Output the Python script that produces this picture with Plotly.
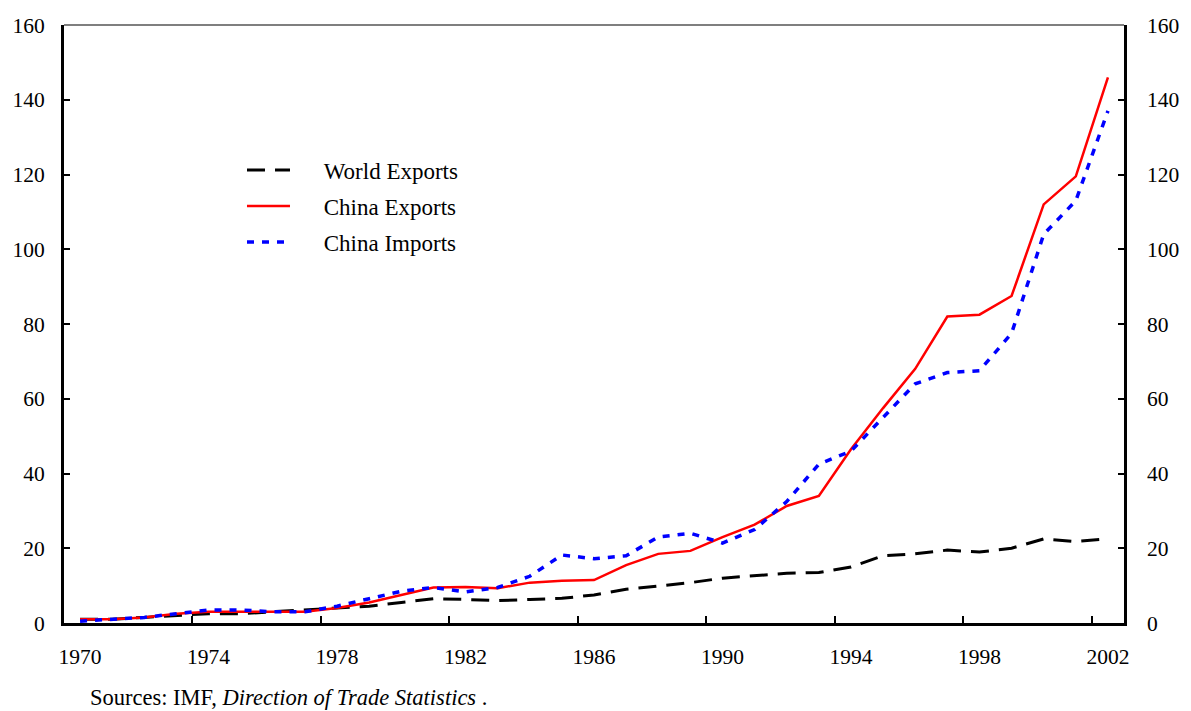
import plotly.graph_objects as go

years = list(range(1970, 2003))
world_exports = [1.0, 1.0, 1.5, 2.0, 2.5, 2.5, 3.0, 3.3, 3.8, 4.5, 5.5, 6.5, 6.3,
                 6.0, 6.3, 6.6, 7.5, 9.0, 9.9, 10.8, 12.0, 12.6, 13.3, 13.5, 15.0,
                 18.0, 18.5, 19.5, 19.0, 20.0, 22.5, 21.8, 22.5]
china_exports = [1.0, 1.0, 1.5, 2.5, 3.0, 3.0, 3.0, 3.0, 4.0, 5.5, 7.5, 9.5, 9.6,
                 9.3, 10.8, 11.3, 11.5, 15.5, 18.5, 19.3, 23.0, 26.3, 31.3, 34.0,
                 46.5, 57.5, 68.0, 82.0, 82.5, 87.5, 112.0, 119.5, 146.0]
china_imports = [0.5, 1.0, 1.5, 2.5, 3.5, 3.5, 3.0, 3.0, 4.5, 6.5, 8.5, 9.5, 8.3,
                 9.5, 12.5, 18.2, 17.2, 18.0, 23.0, 24.0, 21.4, 25.0, 32.5, 42.5,
                 46.0, 55.0, 64.0, 67.0, 67.5, 77.5, 104.0, 113.0, 137.0]

xtick_labels = [1970, 1974, 1978, 1982, 1986, 1990, 1994, 1998, 2002]
ytick_vals = [0, 20, 40, 60, 80, 100, 120, 140, 160]
series_names = ["World Exports", "China Exports", "China Imports"]
source_text = "Sources: IMF, <i>Direction of Trade Statistics</i> ."

FONT = "Liberation Serif"
PAD = "\u00a0" * 5

fig = go.Figure()
fig.add_trace(go.Scatter(x=years, y=world_exports, mode="lines", name=PAD + series_names[0],
                         legend="legend",
                         line=dict(color="black", width=3, dash="18px,10px")))
fig.add_trace(go.Scatter(x=years, y=china_exports, mode="lines", name=PAD + series_names[1],
                         legend="legend2",
                         line=dict(color="#ff0000", width=2.5)))
fig.add_trace(go.Scatter(x=years, y=china_imports, mode="lines", name=PAD + series_names[2],
                         legend="legend3",
                         line=dict(color="#0000ff", width=3.5, dash="7px,8px")))
fig.add_trace(go.Scatter(x=years, y=china_exports, mode="lines", yaxis="y2",
                         showlegend=False, hoverinfo="skip",
                         line=dict(color="rgba(0,0,0,0)", width=0)))

# plot area: left 63, right 1135, top 25, bottom 623 (page pixels)
leg_common = dict(x=(243 - 63) / 1072, xanchor="left", yanchor="middle",
                  bgcolor="rgba(0,0,0,0)",
                  font=dict(family=FONT, size=23, color="black"), itemwidth=43)

def py(v):
    return (623 - v) / 598

fig.update_layout(
    width=1191, height=711,
    margin=dict(l=63, r=56, t=25, b=88),
    paper_bgcolor="white", plot_bgcolor="white",
    font=dict(family=FONT, size=21.5, color="black"),
    xaxis=dict(range=[1969.5, 2002.5], tickmode="array", tickvals=xtick_labels,
               ticktext=[str(v) for v in xtick_labels], ticks="",
               showgrid=False, zeroline=False, showline=True, linecolor="black",
               linewidth=3, ticklabelstandoff=12,
               minor=dict(tickmode="array", tickvals=[v - 0.5 for v in xtick_labels[1:]],
                          ticks="inside", ticklen=7, tickwidth=1.5, tickcolor="black",
                          showgrid=False)),
    yaxis=dict(range=[0, 160], tickmode="array", tickvals=ytick_vals, ticks="inside",
               ticklen=6, tickwidth=1.5, tickcolor="black", showgrid=False,
               zeroline=False, showline=True, linecolor="black", linewidth=3,
               ticklabelstandoff=12),
    yaxis2=dict(range=[0, 160], overlaying="y", side="right", tickmode="array",
                tickvals=ytick_vals, ticks="inside", ticklen=6, tickwidth=1.5,
                tickcolor="black", showgrid=False, zeroline=False, showline=True,
                linecolor="black", linewidth=2.5, ticklabelstandoff=16),
    legend=dict(y=py(170), **leg_common),
    legend2=dict(y=py(206), **leg_common),
    legend3=dict(y=py(242), **leg_common),
    showlegend=True,
)

fig.add_shape(type="line", xref="paper", yref="paper", x0=0, x1=1, y0=1, y1=1,
              line=dict(color="#555555", width=1.5))

fig.add_annotation(text=source_text, xref="paper", yref="paper",
                   x=(87 - 63) / 1072, y=py(697), xanchor="left", yanchor="middle",
                   showarrow=False, font=dict(family=FONT, size=22.5, color="black"))

fig.write_html("out.html",
               config={"displayModeBar": False},
               post_script="document.body.style.margin='0';"
                           "document.documentElement.style.overflow='hidden';")
